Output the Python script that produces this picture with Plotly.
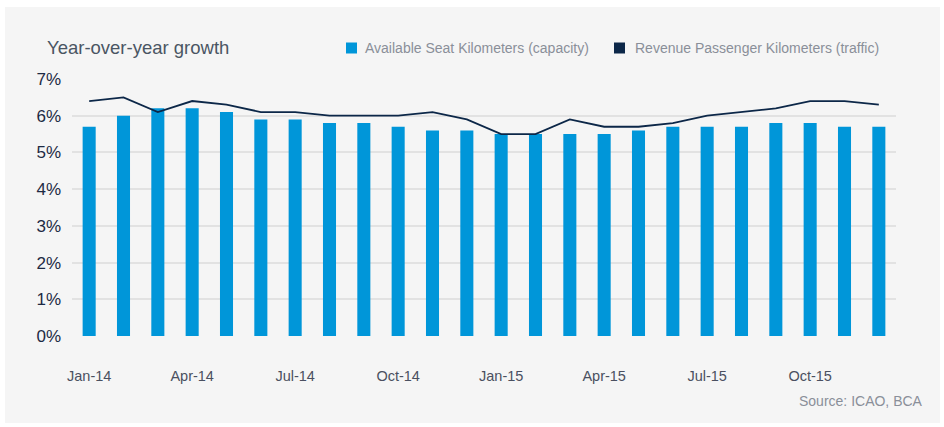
import plotly.graph_objects as go

months = ["Jan-14", "Feb-14", "Mar-14", "Apr-14", "May-14", "Jun-14", "Jul-14", "Aug-14",
          "Sep-14", "Oct-14", "Nov-14", "Dec-14", "Jan-15", "Feb-15", "Mar-15", "Apr-15",
          "May-15", "Jun-15", "Jul-15", "Aug-15", "Sep-15", "Oct-15", "Nov-15", "Dec-15"]
ask_capacity = [5.7, 6.0, 6.2, 6.2, 6.1, 5.9, 5.9, 5.8, 5.8, 5.7, 5.6, 5.6,
                5.5, 5.5, 5.5, 5.5, 5.6, 5.7, 5.7, 5.7, 5.8, 5.8, 5.7, 5.7]
rpk_traffic = [6.4, 6.5, 6.1, 6.4, 6.3, 6.1, 6.1, 6.0, 6.0, 6.0, 6.1, 5.9,
               5.5, 5.5, 5.9, 5.7, 5.7, 5.8, 6.0, 6.1, 6.2, 6.4, 6.4, 6.3]
tick_months = ["Jan-14", "Apr-14", "Jul-14", "Oct-14", "Jan-15", "Apr-15", "Jul-15", "Oct-15"]
y_ticks = [0, 1, 2, 3, 4, 5, 6, 7]
y_tick_text = ["0%", "1%", "2%", "3%", "4%", "5%", "6%", "7%"]

W, H = 944, 427
L, R, T, B = 72, 48, 79, 91
PW, PH = W - L - R, H - T - B

def px(x):
    return (x - L) / PW

def py(y):
    return (H - B - y) / PH

BAR = "#0096d9"
LINE = "#0c2748"
FONT = "Liberation Sans, Arial, sans-serif"

fig = go.Figure()
fig.add_trace(go.Bar(x=months, y=ask_capacity, marker_color=BAR, marker_line_width=0,
                     name="Available Seat Kilometers (capacity)", showlegend=False))
fig.add_trace(go.Scatter(x=months, y=rpk_traffic, mode="lines",
                         line=dict(color=LINE, width=1.8),
                         name="Revenue Passenger Kilometers (traffic)", showlegend=False))

shapes = [
    dict(type="rect", xref="paper", yref="paper", x0=px(5), x1=px(940), y0=py(423), y1=py(7),
         fillcolor="#f5f5f5", line_width=0, layer="below"),
    dict(type="rect", xref="paper", yref="paper", x0=px(346), x1=px(357), y0=py(53.5), y1=py(42.5),
         fillcolor=BAR, line_width=0),
    dict(type="rect", xref="paper", yref="paper", x0=px(614), x1=px(625), y0=py(53.5), y1=py(42.5),
         fillcolor=LINE, line_width=0),
]

annotations = [
    dict(text="Year-over-year growth", xref="paper", yref="paper", x=px(45), y=py(47),
         xanchor="left", yanchor="middle", showarrow=False,
         font=dict(family=FONT, size=18.5, color="#4a5563")),
    dict(text="Available Seat Kilometers (capacity)", xref="paper", yref="paper",
         x=px(363), y=py(48), xanchor="left", yanchor="middle", showarrow=False,
         font=dict(family=FONT, size=14, color="#8a8f99")),
    dict(text="Revenue Passenger Kilometers (traffic)", xref="paper", yref="paper",
         x=px(633), y=py(48), xanchor="left", yanchor="middle", showarrow=False,
         font=dict(family=FONT, size=14, color="#8a8f99")),
    dict(text="Source: ICAO, BCA", xref="paper", yref="paper",
         x=px(925), y=py(401), xanchor="right", yanchor="middle", showarrow=False,
         font=dict(family=FONT, size=14, color="#8a8f99")),
]

fig.update_layout(
    width=W, height=H,
    margin=dict(l=L, r=R, t=T, b=B, pad=0),
    paper_bgcolor="white",
    plot_bgcolor="rgba(0,0,0,0)",
    bargap=0.62,
    shapes=shapes,
    annotations=annotations,
    showlegend=False,
    xaxis=dict(type="category", categoryorder="array", categoryarray=months,
               tickmode="array", tickvals=tick_months, ticktext=tick_months,
               showgrid=False, zeroline=False, showline=False, ticks="",
               ticklabelstandoff=29,
               tickfont=dict(family=FONT, size=14.5, color="#4a5060")),
    yaxis=dict(range=[0, 7], tickmode="array", tickvals=y_ticks, ticktext=y_tick_text,
               showgrid=True, gridcolor="#e2e2e2", gridwidth=1.5,
               zeroline=False, showline=False, ticks="",
               ticklabelstandoff=10,
               tickfont=dict(family=FONT, size=17, color="#1d2a44")),
)

fig.write_html("out.html", config={"displayModeBar": False},
               post_script="document.body.style.margin='0';document.body.style.padding='0';")
